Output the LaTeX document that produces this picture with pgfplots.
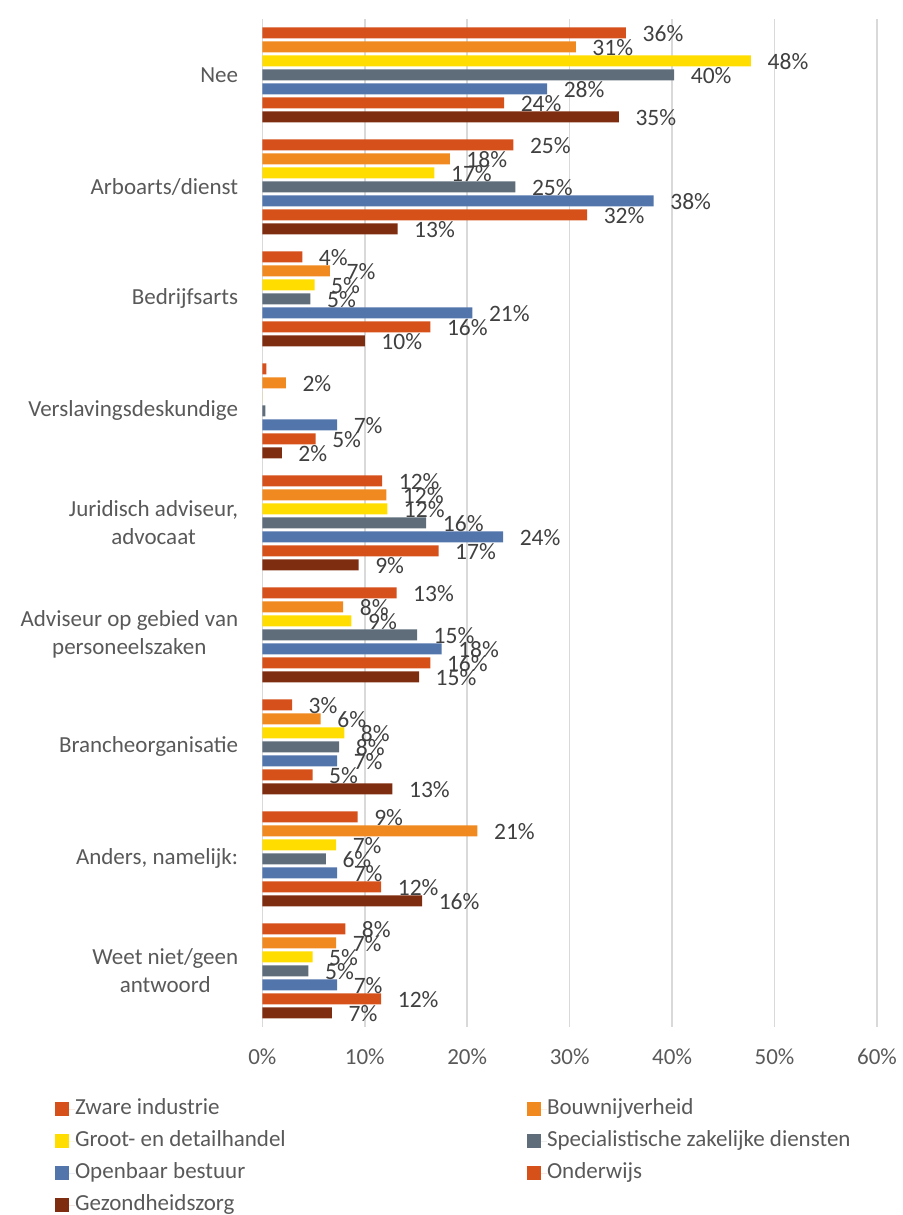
\documentclass[border=0pt]{standalone}
\usepackage{fontspec}
\setmainfont{Carlito}
\usepackage{pgfplots}
\pgfplotsset{compat=1.18}
\definecolor{czw}{HTML}{D5501A}
\definecolor{cbo}{HTML}{F0891F}
\definecolor{cgr}{HTML}{FFDD00}
\definecolor{csp}{HTML}{5E6D79}
\definecolor{cop}{HTML}{5275AC}
\definecolor{con}{HTML}{D6511A}
\definecolor{cge}{HTML}{7F2D10}
\definecolor{gridc}{HTML}{D9D9D9}
\definecolor{labc}{HTML}{595959}
\definecolor{datc}{HTML}{404040}
\pgfplotsset{mylegend/.style={legend image code/.code={\fill[##1] (0pt,-7pt) rectangle (14pt,7pt); \path (0pt,0pt) -- (20pt,0pt);}}}
\begin{document}
\begin{tikzpicture}[x=1pt,y=1pt]
\path[use as bounding box] (0,0) rectangle (902,1215);
\begin{axis}[
 at={(262.3pt,188.2pt)}, anchor=south west,
 scale only axis, width=614.7pt, height=1008pt,
 xbar=3pt, bar width=11pt,
 xmin=0, xmax=60, ymin=-0.5, ymax=8.5, y dir=reverse,
 xtick={0,10,20,30,40,50,60},
 xticklabels={0\%,10\%,20\%,30\%,40\%,50\%,60\%},
 ytick={0,1,2,3,4,5,6,7,8},
 yticklabels={Nee,Arboarts/dienst,Bedrijfsarts,Verslavingsdeskundige,{Juridisch adviseur,\\advocaat},{Adviseur op gebied van\\personeelszaken},Brancheorganisatie,{Anders, namelijk:},{Weet niet/geen\\antwoord}},
 xmajorgrids, major grid style={draw=gridc, line width=1.5pt},
 axis line style={draw=none}, major tick length=0pt,
 tick label style={font=\fontsize{23}{28}\selectfont, text=labc},
 xticklabel style={inner sep=0pt, anchor=north, yshift=-22pt},
 yticklabel style={inner sep=0pt, anchor=east, xshift=-24pt, align=center},
 nodes near coords, point meta=explicit symbolic,
 nodes near coords style={font=\fontsize{23.5}{28}\selectfont, text=datc, anchor=west, inner sep=0pt, xshift=16.5pt, yshift=-1pt},
 every axis plot/.append style={draw=none},
 every axis plot post/.append style={mylegend},
 legend columns=2,
 legend style={at={(axis description cs:-0.3372,-0.0728)}, anchor=north west, draw=none, fill=none, inner sep=0pt, outer sep=0pt, column sep=0pt, row sep=14pt, font=\fontsize{23}{28}\selectfont, text=labc, nodes={inner sep=0pt, text height=14pt, text depth=4pt}, cells={anchor=west}},
 legend entries={\makebox[452pt][l]{Zware industrie},Bouwnijverheid,\makebox[452pt][l]{Groot- en detailhandel},Specialistische zakelijke diensten,\makebox[452pt][l]{Openbaar bestuur},Onderwijs,\makebox[452pt][l]{Gezondheidszorg}},
 clip=false,
]
\addplot[fill=czw, bar shift=42pt] coordinates {(35.5,0)[36\%] (24.5,1)[25\%] (3.9,2)[4\%] (0.4,3)[{}] (11.7,4)[12\%] (13.1,5)[13\%] (2.9,6)[3\%] (9.3,7)[9\%] (8.1,8)[8\%]};
\addplot[fill=cbo, bar shift=28pt] coordinates {(30.6,0)[31\%] (18.3,1)[18\%] (6.6,2)[7\%] (2.3,3)[2\%] (12.1,4)[12\%] (7.9,5)[8\%] (5.7,6)[6\%] (21.0,7)[21\%] (7.2,8)[7\%]};
\addplot[fill=cgr, bar shift=14pt] coordinates {(47.7,0)[48\%] (16.8,1)[17\%] (5.1,2)[5\%] (0,3)[{}] (12.2,4)[12\%] (8.7,5)[9\%] (8.0,6)[8\%] (7.2,7)[7\%] (4.9,8)[5\%]};
\addplot[fill=csp, bar shift=0pt] coordinates {(40.2,0)[40\%] (24.7,1)[25\%] (4.7,2)[5\%] (0.3,3)[{}] (16.0,4)[16\%] (15.1,5)[15\%] (7.5,6)[8\%] (6.2,7)[6\%] (4.5,8)[5\%]};
\addplot[fill=cop, bar shift=-14pt] coordinates {(27.8,0)[28\%] (38.2,1)[38\%] (20.5,2)[21\%] (7.3,3)[7\%] (23.5,4)[24\%] (17.5,5)[18\%] (7.3,6)[7\%] (7.3,7)[7\%] (7.3,8)[7\%]};
\addplot[fill=con, bar shift=-28pt] coordinates {(23.6,0)[24\%] (31.7,1)[32\%] (16.4,2)[16\%] (5.2,3)[5\%] (17.2,4)[17\%] (16.4,5)[16\%] (4.9,6)[5\%] (11.6,7)[12\%] (11.6,8)[12\%]};
\addplot[fill=cge, bar shift=-42pt] coordinates {(34.8,0)[35\%] (13.2,1)[13\%] (10.0,2)[10\%] (1.9,3)[2\%] (9.4,4)[9\%] (15.3,5)[15\%] (12.7,6)[13\%] (15.6,7)[16\%] (6.8,8)[7\%]};
\end{axis}
\end{tikzpicture}
\end{document}
